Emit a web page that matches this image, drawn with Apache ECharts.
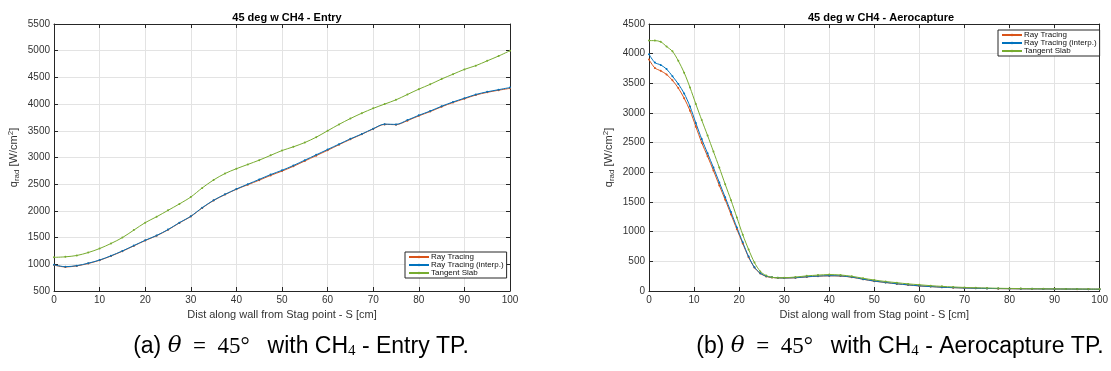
<!DOCTYPE html>
<html>
<head>
<meta charset="utf-8">
<script src="https://cdn.jsdelivr.net/npm/echarts@6/dist/echarts.min.js"></script>
<style>
html,body{margin:0;padding:0;background:#fff;}
#c{width:1111px;height:371px;}
</style>
</head>
<body>
<div id="c"></div>
<script>
// ---- Data ----
const seriesNames = ['Ray Tracing', 'Ray Tracing (interp.)', 'Tangent Slab'];
const xTicks = [0, 10, 20, 30, 40, 50, 60, 70, 80, 90, 100];

// (a) Entry
const entryS = [0,2.5,5,7.5,10,12.5,15,17.5,20,22.5,25,27.5,30,32.5,35,37.5,40,42.5,45,47.5,50,52.5,55,57.5,60,62.5,65,67.5,70,72.5,75,77.5,80,82.5,85,87.5,90,92.5,95,97.5,100];
const entryRay = [985,950,970,1015,1075,1155,1245,1345,1445,1535,1645,1775,1895,2055,2195,2305,2405,2490,2575,2665,2745,2835,2935,3035,3135,3240,3340,3435,3535,3620,3615,3690,3780,3860,3950,4030,4100,4170,4220,4260,4295];
const entryRayInterp = [990,955,975,1020,1080,1160,1250,1350,1450,1540,1650,1780,1900,2060,2200,2310,2410,2500,2590,2680,2760,2850,2950,3050,3150,3250,3350,3440,3540,3625,3620,3700,3790,3870,3960,4040,4110,4180,4230,4270,4310];
const entryTangent = [1130,1140,1165,1220,1295,1390,1500,1640,1780,1890,2010,2130,2260,2430,2580,2700,2790,2870,2950,3040,3130,3200,3280,3380,3500,3620,3730,3830,3920,4000,4080,4180,4280,4370,4470,4560,4650,4720,4810,4900,5000];

// (b) Aerocapture
const aeroS = [0,1.3,2.6,3.9,5.2,6.5,7.8,9.1,10.4,11.7,13,14.3,15.6,16.9,18.2,19.5,20.8,22.1,23.4,24.7,26,27.3,28.6,30,32.5,35,37.5,40,42.5,45,47.5,50,52.5,55,57.5,60,62.5,65,67.5,70,72.5,75,77.5,80,82.5,85,87.5,90,92.5,95,97.5,100];
const aeroRay = [3900,3760,3710,3650,3550,3420,3250,3040,2770,2500,2270,2030,1780,1540,1290,1040,800,570,395,295,245,228,220,218,222,238,250,255,252,232,198,165,143,120,102,85,74,63,56,50,46,43,40,38,36,35,34,33,32,31,30,29];
const aeroRayInterp = [3990,3850,3810,3740,3620,3490,3330,3110,2830,2560,2320,2080,1830,1580,1330,1070,820,580,400,300,250,230,222,220,225,240,252,258,255,235,200,168,145,122,104,87,75,64,57,51,47,44,41,39,37,36,35,34,33,32,31,30];
const aeroTangent = [4220,4220,4200,4120,4040,3880,3680,3430,3150,2880,2620,2350,2080,1800,1530,1240,950,700,480,330,260,230,225,225,235,255,268,278,270,248,215,185,160,140,120,105,90,78,68,60,54,50,46,43,41,39,37,36,35,34,33,32];

const colors = ['#D95319', '#0072BD', '#77AC30'];

function pairs(xs, ys) { return xs.map((x, i) => [x, ys[i]]); }

const axisColor = '#262626';
const labelFont = 'Liberation Sans, Arial, Helvetica, sans-serif';

function xAxes(grid) {
  return [
    { type: 'value', gridIndex: grid, min: 0, max: 100, interval: 10,
      axisLine: { show: true, onZero: false, lineStyle: { color: axisColor, width: 1 } },
      axisTick: { inside: true, length: 4, lineStyle: { color: axisColor } },
      axisLabel: { color: '#333', fontSize: 10, fontFamily: labelFont, margin: 4,
        formatter: v => xTicks.includes(v) ? String(v) : '' },
      splitLine: { show: true, lineStyle: { color: '#e3e3e3', width: 1 } },
      name: 'Dist along wall from Stag point - S [cm]', nameLocation: 'middle', nameGap: 16,
      nameTextStyle: { color: '#333', fontSize: 11, fontFamily: labelFont } },
    { type: 'value', gridIndex: grid, position: 'top', min: 0, max: 100, interval: 10,
      axisLine: { show: true, onZero: false, lineStyle: { color: axisColor, width: 1 } },
      axisTick: { inside: true, length: 4, lineStyle: { color: axisColor } },
      axisLabel: { show: false }, splitLine: { show: false } }
  ];
}
function yAxes(grid, min, max) {
  return [
    { type: 'value', gridIndex: grid, min: min, max: max, interval: 500,
      axisLine: { show: true, onZero: false, lineStyle: { color: axisColor, width: 1 } },
      axisTick: { inside: true, length: 4, lineStyle: { color: axisColor } },
      axisLabel: { color: '#333', fontSize: 10, fontFamily: labelFont, margin: 4, formatter: v => String(v) },
      splitLine: { show: true, lineStyle: { color: '#e3e3e3', width: 1 } },
      name: '{b|q}{sub|rad}{b| [W/cm}{sup|2}{b|]}', nameLocation: 'middle', nameGap: 32, nameRotate: 90,
      nameTextStyle: { color: '#333', fontFamily: labelFont,
        rich: {
          b: { fontSize: 11, fontFamily: labelFont, color: '#333', lineHeight: 16 },
          sub: { fontSize: 8, fontFamily: labelFont, color: '#333', padding: [6, 0, 0, 0], lineHeight: 16 },
          sup: { fontSize: 8, fontFamily: labelFont, color: '#333', padding: [0, 0, 6, 0], lineHeight: 16 }
        } } },
    { type: 'value', gridIndex: grid, position: 'right', min: min, max: max, interval: 500,
      axisLine: { show: true, onZero: false, lineStyle: { color: axisColor, width: 1 } },
      axisTick: { inside: true, length: 4, lineStyle: { color: axisColor } },
      axisLabel: { show: false }, splitLine: { show: false } }
  ];
}

function lineSeries(name, data, color, xi, yi) {
  return { name: name, type: 'line', xAxisIndex: xi, yAxisIndex: yi, data: data,
    symbol: 'circle', symbolSize: 2, showSymbol: true, smooth: 0.3,
    lineStyle: { color: color, width: 1 }, itemStyle: { color: color },
    emphasis: { disabled: true }, animation: false, z: 3 };
}

const capSize = 23;
const captionRich = {
  s: { fontSize: capSize, fontWeight: 'normal', fontFamily: labelFont, color: '#000' },
  m: { fontSize: capSize, fontWeight: 'normal', fontFamily: 'DejaVu Serif, Liberation Serif, serif', fontStyle: 'italic', color: '#000' },
  r: { fontSize: capSize, fontWeight: 'normal', fontFamily: 'Liberation Serif, DejaVu Serif, serif', color: '#000' },
  sub: { fontSize: 15, fontWeight: 'normal', fontFamily: 'Liberation Serif, serif', color: '#000', padding: [10, 0, 0, 0] }
};

const legendCommon = {
  orient: 'vertical', data: seriesNames, backgroundColor: '#fff',
  borderColor: axisColor, borderWidth: 1, borderRadius: 0,
  padding: [1, 3, 1, 3], itemGap: 0, itemWidth: 20, itemHeight: 3,
  textStyle: { fontSize: 8, fontFamily: labelFont, color: '#111', padding: [0, 0, 0, -3] },
  selectedMode: false
};

const chart = echarts.init(document.getElementById('c'), null, { renderer: 'canvas' });
chart.setOption({
  animation: false,
  backgroundColor: '#fff',
  title: [
    { text: '45 deg w CH4 - Entry', left: 282, top: 7, textAlign: 'center',
      textStyle: { fontSize: 11, fontWeight: 'bold', fontFamily: labelFont, color: '#000' } },
    { text: '45 deg w CH4 - Aerocapture', left: 876, top: 7, textAlign: 'center',
      textStyle: { fontSize: 11, fontWeight: 'bold', fontFamily: labelFont, color: '#000' } },
    { text: '{s|(a) }{m|θ}{r|  =  45°  }{s| with CH}{sub|4}{s| - Entry TP.}', left: 296, top: 329, textAlign: 'center',
      textStyle: { fontWeight: 'normal', rich: captionRich } },
    { text: '{s|(b) }{m|θ}{r|  =  45°  }{s| with CH}{sub|4}{s| - Aerocapture TP.}', left: 895, top: 329, textAlign: 'center',
      textStyle: { fontWeight: 'normal', rich: captionRich } }
  ],
  legend: [
    Object.assign({}, legendCommon, { left: 405, top: 252 }),
    Object.assign({}, legendCommon, { left: 998, top: 30 })
  ],
  grid: [
    { left: 54, top: 24, width: 456, height: 267 },
    { left: 649, top: 24, width: 455, height: 267 }
  ],
  xAxis: xAxes(0).concat(xAxes(1)),
  yAxis: yAxes(0, 500, 5500).concat(yAxes(1, 0, 4500)),
  series: [
    lineSeries(seriesNames[0], pairs(entryS, entryRay), colors[0], 0, 0),
    lineSeries(seriesNames[1], pairs(entryS, entryRayInterp), colors[1], 0, 0),
    lineSeries(seriesNames[2], pairs(entryS, entryTangent), colors[2], 0, 0),
    lineSeries(seriesNames[0], pairs(aeroS, aeroRay), colors[0], 2, 2),
    lineSeries(seriesNames[1], pairs(aeroS, aeroRayInterp), colors[1], 2, 2),
    lineSeries(seriesNames[2], pairs(aeroS, aeroTangent), colors[2], 2, 2)
  ]
});
</script>
</body>
</html>
